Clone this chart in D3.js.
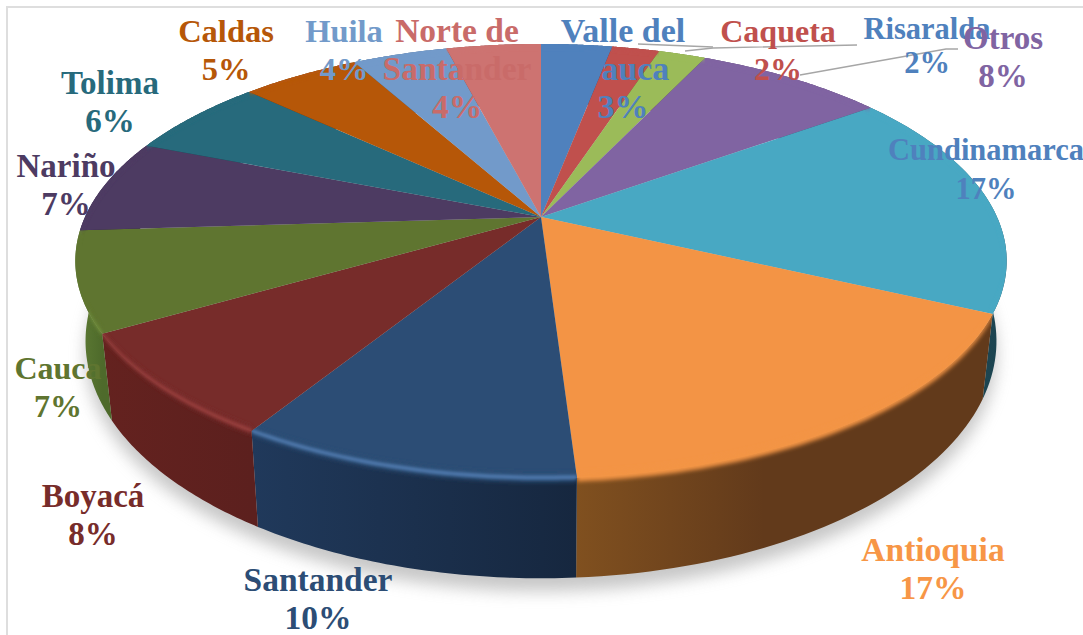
<!DOCTYPE html>
<html>
<head>
<meta charset="utf-8">
<script src="https://cdn.jsdelivr.net/npm/d3@7"></script>
<style>
  html, body { margin: 0; background: #fff; }
  svg { display: block; }
  text { font-family: "Liberation Serif", serif; font-weight: 700; text-anchor: middle; }
</style>
</head>
<body>
<svg id="chart" width="1083" height="635"></svg>
<script>
const categories = ['Valle del Cauca', 'Caqueta', 'Risaralda', 'Otros', 'Cundinamarca', 'Antioquia', 'Santander',
    'Boyacá', 'Cauca', 'Nariño', 'Tolima', 'Caldas', 'Huila', 'Norte de Santander'];
const values = [3, 2, 2, 8, 17, 17, 9.8, 7.8, 7.4, 7, 6, 5, 4, 4];

const sliceColors = ['#4f81bd', '#c0504d', '#9bbb59', '#8064a2', '#48a8c3', '#f39445', '#2c4d75',
    '#772c2a', '#5f7530', '#4d3b62', '#276a7c', '#b65708', '#729aca', '#cd7371'];
const labelColors = ['#4f81bd', '#c0504d', '#4f81bd', '#8064a2', '#4f81bd', '#f79646', '#2c4d75',
    '#772c2a', '#5f7530', '#4d3b62', '#276a7c', '#b65708', '#729aca', '#c96b69'];
// wall shading, left and right end of each slice
const wallLeft = ['#2f4d71', '#733030', '#5d7035', '#4c3c61', '#1f4a56', '#80501f', '#20395b',
    '#64221f', '#5f7d35', '#2e2340', '#173f4a', '#6d3405', '#445c79', '#7b4544'];
const wallRight = ['#2f4d71', '#733030', '#5d7035', '#4c3c61', '#1c4450', '#623a1b', '#16273f',
    '#5c201e', '#4e6a2b', '#2e2340', '#173f4a', '#6d3405', '#445c79', '#7b4544'];
// thin light line along the rounded rim of the front slices
const rimGlow = { 6: '#5079ad', 7: '#993f3d', 8: '#76983f' };

// label text lines and where each block sits
const labelLines = [['Valle del', 'Cauca', '3%'], ['Caqueta', '2%'], ['Risaralda', '2%'], ['Otros', '8%'],
    ['Cundinamarca', '17%'], ['Antioquia', '17%'], ['Santander', '10%'], ['Boyacá', '8%'], ['Cauca', '7%'],
    ['Nariño', '7%'], ['Tolima', '6%'], ['Caldas', '5%'], ['Huila', '4%'], ['Norte de', 'Santander', '4%']];
const labelX = [623, 778, 927, 1003, 986, 933, 318, 93, 58, 66, 110, 226, 344, 457];
const labelY = [42, 42, 39, 49, 160, 561, 591, 507, 379, 177, 94, 42, 42, 42];
const labelSize = [34, 32, 30.5, 33, 30.5, 33.5, 33.5, 33, 32, 33, 33, 32.5, 32.5, 33.5];
const labelGap = [38, 38, 34, 38, 39, 38, 38, 38, 38, 38, 38, 38, 38, 38];

const leaderLines = [
    [[638, 44], [713, 47]],
    [[685, 51], [713, 48], [857, 45]],
    [[800, 75], [946, 49], [958, 49]]
];

const svg = d3.select('#chart');
const defs = svg.append('defs');

// perspective view of the tilted disc: d = 0 is the top rim, d = 1 the bottom rim
const view = { cx: 541, persp: 0.2028, rTop: 456, rBottom: 446, yTop: 217, yBottom: 293, hTop: 164.1, hBottom: 168 };
function project(angle, d) {
    const w = 1 + view.persp * Math.cos(angle);
    const r = view.rTop + (view.rBottom - view.rTop) * d;
    const y0 = view.yTop + (view.yBottom - view.yTop) * d;
    const h = view.hTop + (view.hBottom - view.hTop) * d;
    return [view.cx + r * Math.sin(angle) / w, (y0 - h * Math.cos(angle)) / w];
}

const arcs = d3.pie().sort(null).value(d => d)(values);
const line = d3.line();
const arcSamples = (a) => d3.range(0, 1.0001, 1 / 48).map(t => a.startAngle + (a.endAngle - a.startAngle) * t);

// band of the wall between two depths
function band(a, d0, d1) {
    const ss = arcSamples(a);
    return line(ss.map(s => project(s, d0)).concat(ss.slice().reverse().map(s => project(s, d1)))) + 'Z';
}
function face(a) {
    return line([[view.cx, view.yTop]].concat(arcSamples(a).map(s => project(s, 0)))) + 'Z';
}

defs.append('filter').attr('id', 'shadowBlur').attr('x', '-10%').attr('y', '-10%').attr('width', '120%').attr('height', '120%')
    .append('feGaussianBlur').attr('stdDeviation', 8);
defs.append('filter').attr('id', 'bevelBlur').attr('x', '-5%').attr('y', '-30%').attr('width', '110%').attr('height', '160%')
    .append('feGaussianBlur').attr('stdDeviation', 2.2);
defs.append('filter').attr('id', 'glowBlur').attr('x', '-5%').attr('y', '-30%').attr('width', '110%').attr('height', '160%')
    .append('feGaussianBlur').attr('stdDeviation', 1.4);

// frame
svg.append('path').attr('d', 'M7,635V7H1083').attr('fill', 'none').attr('stroke', '#dedede').attr('stroke-width', 2);

// shadow under the disc
svg.append('path')
    .attr('d', line(d3.range(0, 2 * Math.PI, 0.02).map(s => project(s, 1))) + 'Z')
    .attr('transform', 'translate(0,13)')
    .attr('fill', '#9a9a9a')
    .attr('opacity', 0.55)
    .attr('filter', 'url(#shadowBlur)');

// walls
const walls = svg.append('g');
arcs.forEach((a, i) => {
    const xs = arcSamples(a).map(s => project(s, 0)[0]);
    const grad = defs.append('linearGradient').attr('id', `wall${i}`)
        .attr('gradientUnits', 'userSpaceOnUse')
        .attr('x1', d3.min(xs)).attr('x2', d3.max(xs)).attr('y1', 0).attr('y2', 0);
    grad.append('stop').attr('offset', 0).attr('stop-color', wallLeft[i]);
    grad.append('stop').attr('offset', i === 5 ? 0.45 : 1).attr('stop-color', wallRight[i]);
    walls.append('path').attr('d', band(a, 0, 1)).attr('fill', `url(#wall${i})`);
});

// top faces
svg.append('g').selectAll('path')
    .data(arcs)
    .enter().append('path')
    .attr('d', face)
    .attr('fill', (d, i) => sliceColors[i]);

// rounded rim: blurred bands, kept inside their own slice
const bevels = svg.append('g');
arcs.forEach((a, i) => {
    const clip = defs.append('clipPath').attr('id', `bevelClip${i}`);
    clip.append('path').attr('d', band(a, 0, 1));
    clip.append('path').attr('d', face(a));
    const g = bevels.append('g').attr('clip-path', `url(#bevelClip${i})`);
    g.append('path').attr('d', band(a, -0.05, 0.04)).attr('fill', sliceColors[i]).attr('filter', 'url(#bevelBlur)');
    if (rimGlow[i]) {
        g.append('path').attr('d', band(a, -0.025, 0.015)).attr('fill', rimGlow[i]).attr('filter', 'url(#glowBlur)');
    }
});

// leader lines
svg.append('g').selectAll('path')
    .data(leaderLines)
    .enter().append('path')
    .attr('d', d => line(d))
    .attr('fill', 'none')
    .attr('stroke', '#a6a6a6')
    .attr('stroke-width', 1.3);

// labels
categories.forEach((name, i) => {
    const text = svg.append('text')
        .attr('fill', labelColors[i])
        .attr('font-size', labelSize[i]);
    labelLines[i].forEach((l, k) => {
        text.append('tspan')
            .attr('x', labelX[i])
            .attr('y', labelY[i] + k * labelGap[i])
            .text(l);
    });
});
</script>
</body>
</html>
